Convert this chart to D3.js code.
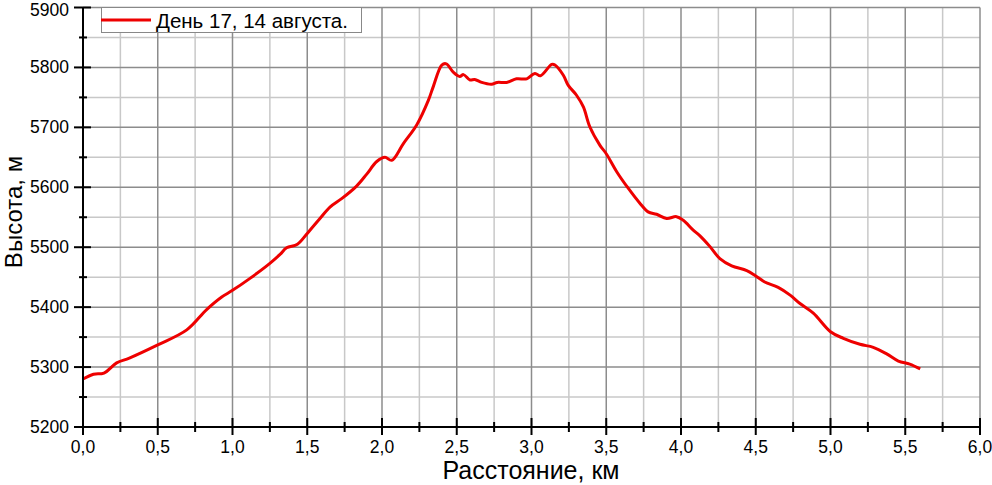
<!DOCTYPE html>
<html><head><meta charset="utf-8">
<script src="https://cdn.jsdelivr.net/npm/d3@7"></script>
<style>body{margin:0;background:#fff}svg{display:block}text{font-family:Arial,"Liberation Sans",sans-serif}</style>
</head><body><svg id="c" width="992" height="485"></svg>
<script>
const distance = [0.0,0.07,0.14,0.225,0.31,0.5,0.694,0.827,0.928,1.0,1.117,1.25,1.318,1.362,1.434,1.5,1.585,1.652,1.73,1.83,1.898,1.965,2.02,2.065,2.143,2.232,2.31,2.343,2.40,2.43,2.477,2.52,2.545,2.589,2.62,2.667,2.733,2.77,2.834,2.9,2.968,3.023,3.06,3.135,3.157,3.213,3.246,3.30,3.347,3.39,3.458,3.5,3.57,3.648,3.726,3.78,3.837,3.904,3.97,4.015,4.08,4.127,4.194,4.26,4.339,4.44,4.5,4.56,4.65,4.73,4.796,4.885,5.0,5.086,5.197,5.286,5.376,5.454,5.53,5.6];
const elevation = [5280,5288,5290,5307,5315,5337,5362,5396,5417,5428,5448,5473,5488,5499,5505,5523,5548,5567,5581,5602,5622,5643,5650,5645,5673,5704,5745,5768,5804,5806,5792,5785,5788,5779,5780,5775,5772,5775,5775,5781,5781,5790,5786,5805,5804,5787,5770,5754,5734,5701,5670,5656,5626,5598,5573,5559,5555,5548,5551,5545,5529,5519,5501,5481,5469,5461,5452,5442,5433,5420,5406,5390,5359,5348,5338,5333,5322,5310,5305,5297];
const seriesName = "День 17, 14 августа.";
const xTickLabels = ["0,0","0,5","1,0","1,5","2,0","2,5","3,0","3,5","4,0","4,5","5,0","5,5","6,0"];
const yTickValues = [5200,5300,5400,5500,5600,5700,5800,5900];
const xTitle = "Расстояние, км";
const yTitle = "Высота, м";

const svg = d3.select("#c");
const L=83, R=980, T=7.5, B=427;
const x = d3.scaleLinear().domain([0,6]).range([L,R]);
const y = d3.scaleLinear().domain([5200,5900]).range([B,T]);

const majorX = d3.range(0,6.001,0.5), minorX = d3.range(0.25,6,0.5);
const majorY = yTickValues, minorY = d3.range(5250,5900,100);
const g = svg.append("g");
g.selectAll(".mx").data(minorX).join("line").attr("x1",d=>x(d)).attr("x2",d=>x(d)).attr("y1",T).attr("y2",B).attr("stroke","#c8c8c8").attr("stroke-width",1.5);
g.selectAll(".my").data(minorY).join("line").attr("class","my").attr("y1",d=>y(d)).attr("y2",d=>y(d)).attr("x1",L).attr("x2",R).attr("stroke","#c8c8c8").attr("stroke-width",1.5);
g.selectAll(".Mx").data(majorX).join("line").attr("class","Mx").attr("x1",d=>x(d)).attr("x2",d=>x(d)).attr("y1",T).attr("y2",B).attr("stroke","#8c8c8c").attr("stroke-width",1.5);
g.selectAll(".My").data(majorY).join("line").attr("class","My").attr("y1",d=>y(d)).attr("y2",d=>y(d)).attr("x1",L).attr("x2",R).attr("stroke","#8c8c8c").attr("stroke-width",1.5);

const pts = distance.map((d,i)=>[d,elevation[i]]);
svg.append("path").datum(pts).attr("fill","none").attr("stroke","#ee0000").attr("stroke-width",3).attr("stroke-linejoin","round")
  .attr("d",d3.line().x(d=>x(d[0])).y(d=>y(d[1])).curve(d3.curveCatmullRom.alpha(0.5)));

const ax = svg.append("g");
ax.append("line").attr("x1",L).attr("x2",R).attr("y1",B).attr("y2",B).attr("stroke","#000").attr("stroke-width",2);
ax.append("line").attr("x1",L).attr("x2",L).attr("y1",T).attr("y2",B).attr("stroke","#000").attr("stroke-width",2);
ax.selectAll(".tx").data(majorX).join("line").attr("x1",d=>x(d)).attr("x2",d=>x(d)).attr("y1",B-9).attr("y2",B+8).attr("stroke","#000").attr("stroke-width",2);
ax.selectAll(".tmx").data(minorX).join("line").attr("class","tmx").attr("x1",d=>x(d)).attr("x2",d=>x(d)).attr("y1",B-5).attr("y2",B+5).attr("stroke","#000").attr("stroke-width",2);
ax.selectAll(".ty").data(majorY).join("line").attr("class","ty").attr("y1",d=>y(d)).attr("y2",d=>y(d)).attr("x1",L-9).attr("x2",L+8).attr("stroke","#000").attr("stroke-width",2);
ax.selectAll(".tmy").data(minorY).join("line").attr("class","tmy").attr("y1",d=>y(d)).attr("y2",d=>y(d)).attr("x1",L-4).attr("x2",L+4).attr("stroke","#000").attr("stroke-width",2);

ax.selectAll(".xl").data(majorX).join("text").attr("class","xl").attr("x",d=>x(d)).attr("y",452.5).attr("text-anchor","middle").attr("font-size",17.5).text((d,i)=>xTickLabels[i]);
ax.selectAll(".yl").data(majorY).join("text").attr("class","yl").attr("x",69).attr("y",d=>Math.max(y(d)+6,16.2)).attr("text-anchor","end").attr("font-size",17.5).text(d=>d);

svg.append("text").attr("x",531).attr("y",479).attr("text-anchor","middle").attr("font-size",25).text(xTitle);
svg.append("text").attr("transform","translate(22,212) rotate(-90)").attr("text-anchor","middle").attr("font-size",24).text(yTitle);

const lg = svg.append("g");
lg.append("rect").attr("x",101.5).attr("y",7.5).attr("width",260).attr("height",25).attr("fill","#fff").attr("stroke","#888").attr("stroke-width",1);
lg.append("line").attr("x1",101).attr("x2",151).attr("y1",20).attr("y2",20).attr("stroke","#ee0000").attr("stroke-width",3);
lg.append("text").attr("x",156).attr("y",28).attr("font-size",20.5).text(seriesName);
</script></body></html>
